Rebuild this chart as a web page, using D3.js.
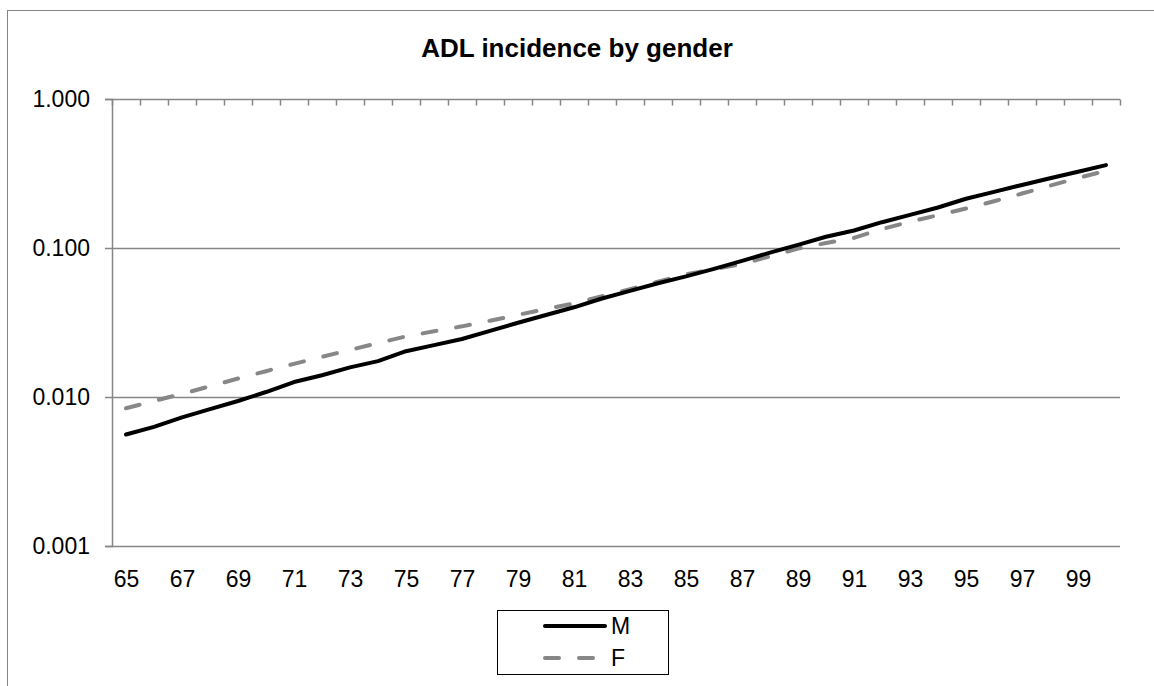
<!DOCTYPE html>
<html>
<head>
<meta charset="utf-8">
<script src="https://cdn.jsdelivr.net/npm/d3@7"></script>
<style>
  body { margin: 0; background: #fff; }
  svg text { font-family: "Liberation Sans", Arial, sans-serif; fill: #000; }
</style>
</head>
<body>
<svg width="1154" height="686"></svg>
<script>
var ages = d3.range(65, 101);
var male = [0.0056, 0.0063, 0.0073, 0.0083, 0.0094, 0.0108, 0.0126, 0.0140, 0.0158, 0.0174,
            0.0203, 0.0223, 0.0245, 0.0278, 0.0315, 0.0355, 0.0400, 0.0458, 0.0515, 0.0580,
            0.0645, 0.0725, 0.0820, 0.0930, 0.105, 0.119, 0.131, 0.149, 0.167, 0.187,
            0.214, 0.238, 0.265, 0.294, 0.325, 0.360];
var female = [0.0084, 0.0094, 0.0105, 0.0118, 0.0133, 0.0149, 0.0167, 0.0186, 0.0207, 0.0230,
              0.0255, 0.0276, 0.0298, 0.0325, 0.0356, 0.0390, 0.0425, 0.0475, 0.0530, 0.0595,
              0.0665, 0.0720, 0.0780, 0.0880, 0.0990, 0.108, 0.117, 0.134, 0.150, 0.166,
              0.184, 0.206, 0.232, 0.262, 0.295, 0.330];
var yTicks = [0.001, 0.01, 0.1, 1];
var xLabels = d3.range(65, 100, 2);

function draw_chart() {
var svg = d3.select("svg");

// chart border
svg.append("rect")
    .attr("x", 7.5).attr("y", 10.5)
    .attr("width", 1160).attr("height", 700)
    .attr("fill", "none").attr("stroke", "#868686");

var plotL = 112, plotR = 1120, plotT = 99, plotB = 546;

var x = d3.scaleLinear().domain([64.5, 100.5]).range([plotL, plotR]);
var y = d3.scaleLog().domain([0.001, 1]).range([plotB, plotT]);

svg.append("text")
    .attr("x", 577).attr("y", 57)
    .attr("text-anchor", "middle")
    .style("font-size", "26px").style("font-weight", "bold")
    .text("ADL incidence by gender");

// gridlines
svg.append("g").selectAll("line")
    .data(yTicks)
  .enter().append("line")
    .attr("x1", plotL).attr("x2", plotR)
    .attr("y1", function(d) { return Math.round(y(d)) + 0.5; })
    .attr("y2", function(d) { return Math.round(y(d)) + 0.5; })
    .attr("stroke", "#868686").attr("stroke-width", 1.5);

// y axis
var yAxis = svg.append("g")
    .attr("transform", "translate(" + plotL + ",0)")
    .call(d3.axisLeft(y).tickValues(yTicks).tickFormat(d3.format(".3f")).tickSize(7).tickPadding(15));
yAxis.select(".domain").attr("stroke", "#868686").attr("stroke-width", 1.5);
yAxis.selectAll(".tick line").attr("stroke", "#868686").attr("stroke-width", 1.5);
yAxis.selectAll("text").style("font-size", "23px").attr("fill", "#000");

// category boundary ticks on top line
var xTop = svg.append("g")
    .attr("transform", "translate(0," + (plotT + 0.5) + ")")
    .call(d3.axisTop(x).tickValues(d3.range(64.5, 101, 1)).tickSize(-6).tickFormat(""));
xTop.select(".domain").remove();
xTop.selectAll(".tick line").attr("stroke", "#868686").attr("stroke-width", 1.5);

// category labels at the bottom
var xBot = svg.append("g")
    .attr("transform", "translate(0," + plotB + ")")
    .call(d3.axisBottom(x).tickValues(xLabels).tickSize(0).tickPadding(25));
xBot.select(".domain").remove();
xBot.selectAll("text").style("font-size", "23px").attr("fill", "#000");

var line = d3.line()
    .x(function(d, i) { return x(ages[i]); })
    .y(function(d) { return y(d); });

svg.append("path")
    .datum(female)
    .attr("d", line)
    .attr("fill", "none")
    .attr("stroke", "#878787")
    .attr("stroke-width", 4)
    .attr("stroke-linecap", "round")
    .attr("stroke-dasharray", "14,20");

svg.append("path")
    .datum(male)
    .attr("d", line)
    .attr("fill", "none")
    .attr("stroke", "#000")
    .attr("stroke-width", 4)
    .attr("stroke-linecap", "round")
    .attr("stroke-linejoin", "round");

// legend
var legend = svg.append("g");
legend.append("rect")
    .attr("x", 497.5).attr("y", 610.5)
    .attr("width", 171).attr("height", 64)
    .attr("fill", "#fff").attr("stroke", "#000").attr("stroke-width", 1);

var items = [
  { name: "M", color: "#000", dash: null, cy: 626 },
  { name: "F", color: "#878787", dash: "14,20", cy: 658 }
];
legend.selectAll(".item")
    .data(items)
  .enter().append("line")
    .attr("x1", 545).attr("x2", 605)
    .attr("y1", function(d) { return d.cy; })
    .attr("y2", function(d) { return d.cy; })
    .attr("stroke", function(d) { return d.color; })
    .attr("stroke-width", 4)
    .attr("stroke-linecap", "round")
    .attr("stroke-dasharray", function(d) { return d.dash; });
legend.selectAll(".label")
    .data(items)
  .enter().append("text")
    .attr("x", 611)
    .attr("y", function(d) { return d.cy + 8; })
    .style("font-size", "23px")
    .text(function(d) { return d.name; });
}

draw_chart();
</script>
</body>
</html>
